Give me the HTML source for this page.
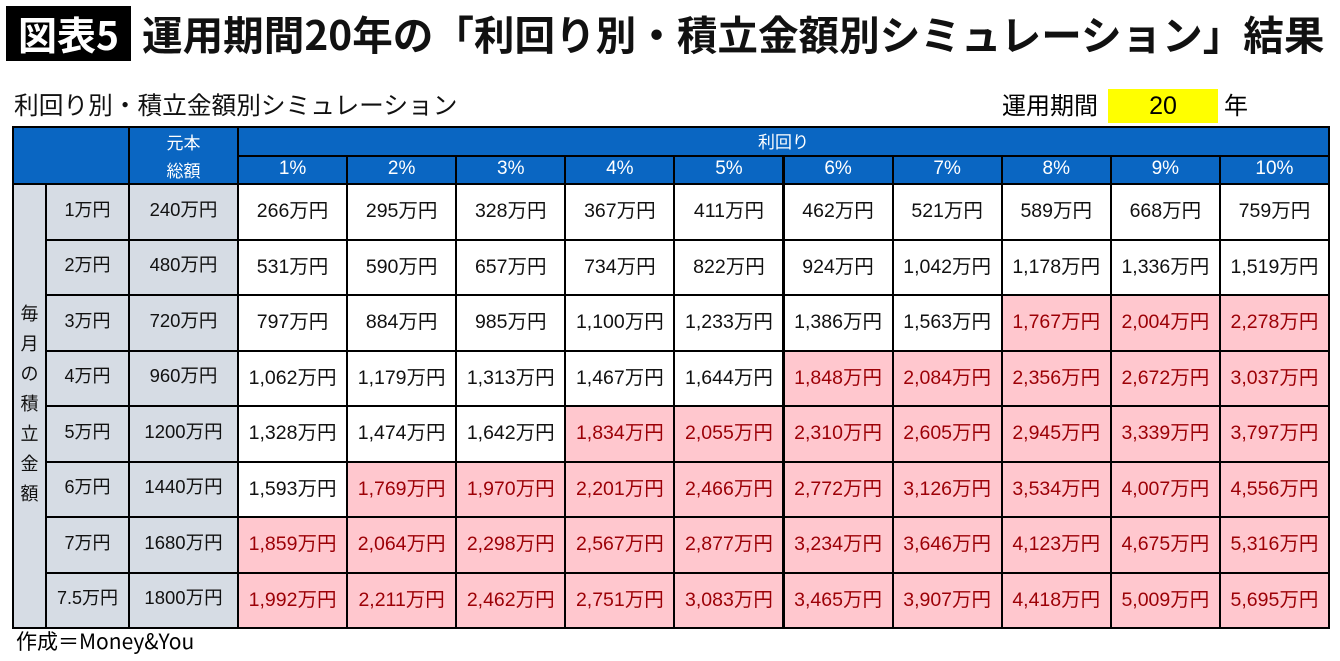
<!DOCTYPE html>
<html><head><meta charset="utf-8">
<style>
body{margin:0;width:1340px;height:661px;background:#fff;position:relative;overflow:hidden;font-family:"Liberation Sans","Noto Sans CJK JP",sans-serif;}
.a{position:absolute;}
.c{position:absolute;display:flex;align-items:center;justify-content:center;box-sizing:border-box;font-size:19.5px;color:#111;white-space:nowrap;}
.v{padding-bottom:6px;}
</style></head><body>
<div class="a" style="left:6px;top:6px;width:125px;height:55px;background:#000;color:#fff;font:bold 39px 'Noto Sans CJK JP',sans-serif;display:flex;align-items:center;justify-content:center;">図表5</div>
<div class="a" style="left:142px;top:4px;font:bold 40.6px 'Noto Sans CJK JP',sans-serif;line-height:58px;white-space:nowrap;color:#111;">運用期間20年の「利回り別・積立金額別シミュレーション」結果</div>
<div class="a" style="left:14px;top:88px;font-size:24.7px;line-height:32px;font-family:'Noto Sans CJK JP',sans-serif;color:#111;white-space:nowrap;">利回り別・積立金額別シミュレーション</div>
<div class="a" style="left:1002px;top:88px;font-size:24px;line-height:32px;font-family:'Noto Sans CJK JP',sans-serif;">運用期間</div>
<div class="a" style="left:1108px;top:89px;width:110px;height:34px;background:#ffff00;font-size:25px;display:flex;align-items:center;justify-content:center;">20</div>
<div class="a" style="left:1224px;top:88px;font-size:24px;line-height:32px;font-family:'Noto Sans CJK JP',sans-serif;">年</div>
<div id="tbl" class="a" style="left:0;top:0;width:1340px;height:661px;"></div>
<div class="a" style="left:16px;top:627px;font-size:21px;line-height:28px;font-family:'Noto Sans CJK JP',sans-serif;white-space:nowrap;">作成＝Money&amp;You</div>
<script>
const rates=["1%","2%","3%","4%","5%","6%","7%","8%","9%","10%"];
const monthly=["1万円","2万円","3万円","4万円","5万円","6万円","7万円","7.5万円"];
const principal=["240万円","480万円","720万円","960万円","1200万円","1440万円","1680万円","1800万円"];
const r1=[266,295,328,367,411,462,521,589,668,759];
const r2=[531,590,657,734,822,924,1042,1178,1336,1519];
const r3=[797,884,985,1100,1233,1386,1563,1767,2004,2278];
const r4=[1062,1179,1313,1467,1644,1848,2084,2356,2672,3037];
const r5=[1328,1474,1642,1834,2055,2310,2605,2945,3339,3797];
const r6=[1593,1769,1970,2201,2466,2772,3126,3534,4007,4556];
const r7=[1859,2064,2298,2567,2877,3234,3646,4123,4675,5316];
const r8=[1992,2211,2462,2751,3083,3465,3907,4418,5009,5695];
const rows=[r1,r2,r3,r4,r5,r6,r7,r8];
const T=document.getElementById('tbl');
const L=12,R=1328,TOP=126,H1=155,H2=183,BOT=627;
const c0=45,c1=128,c2=237,cw=(R-c2)/rates.length,rh=(BOT-H2)/rows.length;
const BLUE='#0a66c2',GRAY='#d6dce4';
function cell(x,y,w,h,txt,bg,col,name,extra,cls){
 const d=document.createElement('div');d.className='c'+(cls?' '+cls:'');
 d.style.cssText+=`left:${x}px;top:${y}px;width:${w+2}px;height:${h+2}px;background:${bg};color:${col};border:2px solid #000;`+(extra||'');
 d.textContent=txt;
 
 
 T.appendChild(d);return d;}
cell(L,TOP,c1-L,H2-TOP,'',BLUE,'#fff','header-corner');
const p=cell(c1,TOP,c2-c1,H2-TOP,'',BLUE,'#fff','principal-header','flex-direction:column;line-height:28px;font-family:"Noto Sans CJK JP",sans-serif;font-size:17px;');
p.innerHTML='<span>元本</span><span>総額</span>';
cell(c2,TOP,R-c2,H1-TOP,'利回り',BLUE,'#fff','rate-header','font-family:"Noto Sans CJK JP",sans-serif;font-size:17px;padding-bottom:3px;');
rates.forEach((r,i)=>{cell(c2+i*cw,H1,cw,H2-H1,r,BLUE,'#fff','rate-'+(i+1),'font-size:19px;padding-bottom:2px;');});
const v=cell(L,H2,c0-L,BOT-H2,'',GRAY,'#111','monthly-label','flex-direction:column;line-height:30px;font-family:"Noto Sans CJK JP",sans-serif;font-size:18px;white-space:normal;padding-bottom:6px;');
v.innerHTML='毎<br>月<br>の<br>積<br>立<br>金<br>額';
rows.forEach((row,j)=>{
 const y=H2+j*rh;
 cell(c0,y,c1-c0,rh,monthly[j],GRAY,'#111','monthly-'+(j+1),'font-size:18px;','v');
 cell(c1,y,c2-c1,rh,principal[j],GRAY,'#111','principal-'+(j+1),'font-size:18.5px;','v');
 row.forEach((val,i)=>{
  const hi=val>=1700;
  cell(c2+i*cw,y,cw,rh,val.toLocaleString('en-US')+'万円',hi?'#ffc7ce':'#fff',hi?'#9c0006':'#111','value-r'+(j+1)+'-c'+(i+1),'','v');
 });
});
</script>
</body></html>
